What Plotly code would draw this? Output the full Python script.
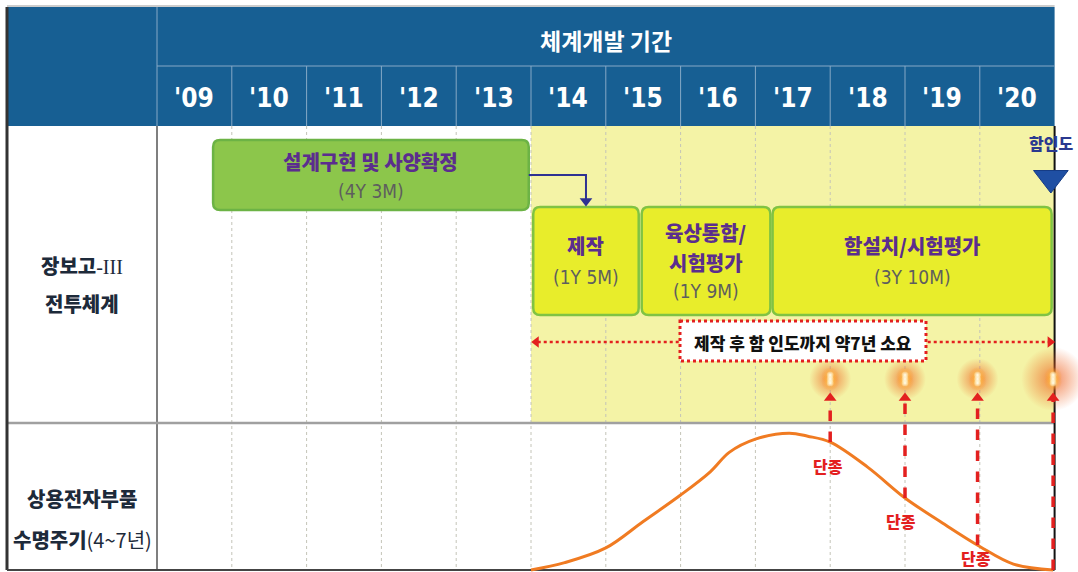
import numpy as np
import plotly.graph_objects as go

# ---------------- data ----------------
year_labels = ["'09", "'10", "'11", "'12", "'13", "'14", "'15", "'16", "'17", "'18", "'19", "'20"]
year_starts = [2009, 2010, 2011, 2012, 2013, 2014, 2015, 2016, 2017, 2018, 2019, 2020]

task_name_lines = [["설계구현 및 사양확정"], ["제작"], ["육상통합/", "시험평가"], ["함설치/시험평가"]]
task_durations = ["(4Y 3M)", "(1Y 5M)", "(1Y 9M)", "(3Y 10M)"]
task_starts = [2009.75, 2014.03, 2015.48, 2017.23]
task_ends = [2013.97, 2015.44, 2017.20, 2020.96]

delivery_year = 2020.98
delivery_label = "함인도"
span_label = "제작 후 함 인도까지 약7년 소요"

# commercial electronic parts life cycle (relative availability, %)
lc_years = [2014.0, 2014.45, 2015.0, 2015.5, 2016.0, 2016.4, 2016.65, 2017.0, 2017.45,
            2017.7, 2018.0, 2018.5, 2019.0, 2019.5, 2020.0, 2020.45, 2020.98]
lc_values = [0, 5, 15, 33, 51, 67, 80, 89, 93, 91, 87, 70, 49, 32, 16, 4, 0]

eol_years = [2018.0, 2019.0, 2019.97, 2020.98]
eol_labels = ["단종", "단종", "단종", ""]

row_labels_top = ["장보고<span style='font-family:Liberation Serif;font-weight:normal'>-III</span>", "전투체계"]
row_labels_bottom = ["상용전자부품", "수명주기<span style='font-weight:normal'>(4~7년)</span>"]
header_title = "체계개발 기간"

# ---------------- layout geometry (pixels) ----------------
W, H = 1078, 572
PX0, COLW = 157, 74.8          # pixel of 2009 and width of one year
def yr(px):
    return 2009 + (px - PX0) / COLW

X_LEFT, X_RIGHT = yr(7), 2021.0
TOP, TITLE_BOT, HEAD_BOT, MID, BOT = 7, 66, 126, 423, 570
LC_BASE, LC_SCALE = 570, 1.47

KFONT = "Noto Sans CJK KR"
NARROW = "Liberation Sans Narrow, DejaVu Sans Condensed, Liberation Sans, Arial"
BLUE = "#175f93"
PURPLE = "#5b2d8e"
RED = "#e3201f"

fig = go.Figure()
shapes = []
ann = []

# header
shapes.append(dict(type="rect", x0=X_LEFT, x1=X_RIGHT, y0=TOP, y1=HEAD_BOT,
                   fillcolor=BLUE, line=dict(width=0), layer="below"))
shapes.append(dict(type="line", x0=X_LEFT, x1=X_RIGHT, y0=TOP - 1, y1=TOP - 1,
                   line=dict(color="#9a9a9a", width=1)))
shapes.append(dict(type="line", x0=2009, x1=X_RIGHT, y0=TITLE_BOT, y1=TITLE_BOT,
                   line=dict(color="#86a9c6", width=1), layer="below"))
shapes.append(dict(type="line", x0=2009, x1=2009, y0=TOP, y1=HEAD_BOT,
                   line=dict(color="#86a9c6", width=1), layer="below"))
for ys in year_starts[1:]:
    shapes.append(dict(type="line", x0=ys, x1=ys, y0=TITLE_BOT, y1=HEAD_BOT,
                       line=dict(color="#86a9c6", width=1), layer="below"))

# yellow band (period after production start)
shapes.append(dict(type="rect", x0=2014, x1=X_RIGHT, y0=HEAD_BOT, y1=MID,
                   fillcolor="#f4f3a6", line=dict(width=0), layer="below"))

# grid
for ys in year_starts[1:]:
    shapes.append(dict(type="line", x0=ys, x1=ys, y0=HEAD_BOT, y1=BOT,
                       line=dict(color="#c4c4b8", width=1, dash="dot"), layer="below"))
shapes.append(dict(type="line", x0=2009, x1=2009, y0=HEAD_BOT, y1=BOT,
                   line=dict(color="#555555", width=1.5), layer="below"))
shapes.append(dict(type="line", x0=X_LEFT, x1=X_RIGHT, y0=MID, y1=MID,
                   line=dict(color="#a0a0a0", width=2.5), layer="below"))
# frame
shapes.append(dict(type="line", x0=X_LEFT, x1=X_LEFT, y0=TOP, y1=BOT,
                   line=dict(color="#333333", width=3), layer="below"))
shapes.append(dict(type="line", x0=X_LEFT, x1=X_RIGHT, y0=BOT, y1=BOT,
                   line=dict(color="#444444", width=2), layer="below"))
shapes.append(dict(type="line", x0=X_RIGHT, x1=X_RIGHT, y0=HEAD_BOT, y1=BOT,
                   line=dict(color="#111111", width=2), layer="below"))


def rrect(x0, x1, y0, y1, r=7):
    rx = r / COLW
    return (f"M {x0+rx},{y0} L {x1-rx},{y0} Q {x1},{y0} {x1},{y0+r} "
            f"L {x1},{y1-r} Q {x1},{y1} {x1-rx},{y1} L {x0+rx},{y1} "
            f"Q {x0},{y1} {x0},{y1-r} L {x0},{y0+r} Q {x0},{y0} {x0+rx},{y0} Z")

# task boxes
box_rows = [(140, 210), (207, 315), (207, 315), (207, 315)]
box_fill = ["#8cc64b", "#e8ed2b", "#e8ed2b", "#e8ed2b"]
box_line = ["#6cb345", "#80c343", "#80c343", "#80c343"]
name_y = [[161], [245], [232, 262], [245]]
dur_y = [191, 277, 291, 277]
for i in range(len(task_name_lines)):
    y0, y1 = box_rows[i]
    shapes.append(dict(type="path", path=rrect(task_starts[i], task_ends[i], y0, y1),
                       fillcolor=box_fill[i], line=dict(color=box_line[i], width=2.5),
                       layer="below"))
    xc = (task_starts[i] + task_ends[i]) / 2
    for line_txt, ly in zip(task_name_lines[i], name_y[i]):
        ann.append(dict(x=xc, y=ly, text=line_txt, showarrow=False,
                        font=dict(family=KFONT, size=20, color=PURPLE, weight=900)))
    ann.append(dict(x=xc, y=dur_y[i], text=task_durations[i], showarrow=False,
                    font=dict(family=NARROW, size=19, color="#5e5e5e")))

# connector arrow from design phase to production
cx = (task_starts[1] + task_ends[1]) / 2
fig.add_trace(go.Scatter(x=[task_ends[0], cx, cx], y=[175, 175, 200], mode="lines",
                         line=dict(color="#2e3192", width=2), hoverinfo="skip"))
fig.add_trace(go.Scatter(x=[cx], y=[201], mode="markers",
                         marker=dict(symbol="triangle-down", size=11, color="#2e3192"),
                         hoverinfo="skip"))

# span arrow (production start -> delivery)
fig.add_trace(go.Scatter(x=[task_starts[1] + 0.06, delivery_year - 0.06], y=[342, 342],
                         mode="lines", line=dict(color=RED, width=2.5, dash="dot"),
                         hoverinfo="skip"))
fig.add_trace(go.Scatter(x=[task_starts[1] + 0.04, delivery_year - 0.04], y=[342, 342],
                         mode="markers",
                         marker=dict(symbol=["triangle-left", "triangle-right"], size=10, color=RED),
                         hoverinfo="skip"))
shapes.append(dict(type="rect", x0=yr(680), x1=yr(926), y0=321, y1=361, fillcolor="white",
                   line=dict(color=RED, width=3, dash="dot"), layer="above"))
ann.append(dict(x=(yr(680) + yr(926)) / 2, y=342, text=span_label, showarrow=False,
                font=dict(family=KFONT, size=17, color="#111111", weight=900)))

# life cycle curve
lc_y = [LC_BASE - v * LC_SCALE for v in lc_values]
fig.add_trace(go.Scatter(x=lc_years, y=lc_y, mode="lines",
                         line=dict(color="#f07b22", width=3, shape="spline", smoothing=1.0),
                         hoverinfo="skip"))

# glowing points (radial gradient: gradient.color = centre, marker.color = rim)
for i, ex in enumerate(eol_years):
    big = i == len(eol_years) - 1
    fig.add_trace(go.Scatter(x=[ex], y=[379], mode="markers", hoverinfo="skip",
                             marker=dict(size=64 if big else 42, color="rgba(238,100,35,0)",
                                         gradient=dict(type="radial", color="rgba(238,100,35,0.75)"),
                                         line=dict(width=0))))
    fig.add_trace(go.Scatter(x=[ex, ex], y=[376, 382], mode="markers", hoverinfo="skip",
                             marker=dict(size=18, color="rgba(255,150,40,0)",
                                         gradient=dict(type="radial", color="rgba(255,215,90,1)"),
                                         line=dict(width=0))))
    fig.add_trace(go.Scatter(x=[ex, ex, ex], y=[375, 379, 383], mode="markers", hoverinfo="skip",
                             marker=dict(size=7, color="rgba(255,252,235,0.2)",
                                         gradient=dict(type="radial", color="#fffdf0"),
                                         line=dict(width=0))))

# end-of-life dashed arrows
eol_v = np.interp(eol_years, lc_years, lc_values)
lab_shift = [-24, -23, -13]
lab_xshift = [-2, -4, -2]
for i, (ex, ev) in enumerate(zip(eol_years, eol_v)):
    yb = min(LC_BASE - ev * LC_SCALE, BOT)
    fig.add_trace(go.Scatter(x=[ex, ex], y=[yb, 400], mode="lines",
                             line=dict(color=RED, width=3.5, dash="dash"), hoverinfo="skip"))
    fig.add_trace(go.Scatter(x=[ex], y=[398], mode="markers",
                             marker=dict(symbol="triangle-up", size=11, color=RED),
                             hoverinfo="skip"))
    if eol_labels[i]:
        ann.append(dict(x=ex, y=yb, text=eol_labels[i], showarrow=False, yshift=lab_shift[i],
                        xshift=lab_xshift[i],
                        font=dict(family=KFONT, size=16, color=RED, weight=900)))

# delivery marker
fig.add_trace(go.Scatter(x=[delivery_year - 0.03], y=[178], mode="markers", hoverinfo="skip",
                         marker=dict(symbol="triangle-down", size=30, color="#1f4fa3",
                                     line=dict(color="#163c85", width=1))))
ann.append(dict(x=delivery_year - 0.03, y=143, text=delivery_label, showarrow=False,
                font=dict(family=KFONT, size=16, color="#2b3990", weight=900)))

# header texts
ann.append(dict(x=(2009 + X_RIGHT) / 2, y=40, text=header_title, showarrow=False,
                font=dict(family=KFONT, size=23, color="white", weight="bold")))
for lab, ys in zip(year_labels, year_starts):
    ann.append(dict(x=ys + 0.5, y=98, text=lab, showarrow=False,
                    font=dict(family=NARROW, size=26, color="white", weight="bold")))

# row labels
lx = (X_LEFT + 2009) / 2
for t, yy in zip(row_labels_top, [265, 303]):
    ann.append(dict(x=lx, y=yy, text=t, showarrow=False,
                    font=dict(family=KFONT, size=20, color="#1d2a3a", weight=900)))
for t, yy in zip(row_labels_bottom, [498, 539]):
    ann.append(dict(x=lx, y=yy, text=t, showarrow=False,
                    font=dict(family=KFONT, size=20, color="#1d2a3a", weight=900)))

fig.update_layout(
    width=W, height=H, margin=dict(l=0, r=0, t=0, b=0),
    paper_bgcolor="white", plot_bgcolor="white", showlegend=False,
    xaxis=dict(range=[yr(0), yr(W)], visible=False, fixedrange=True),
    yaxis=dict(range=[H, 0], visible=False, fixedrange=True),
    shapes=shapes, annotations=ann,
)
fig.write_html("out.html")
